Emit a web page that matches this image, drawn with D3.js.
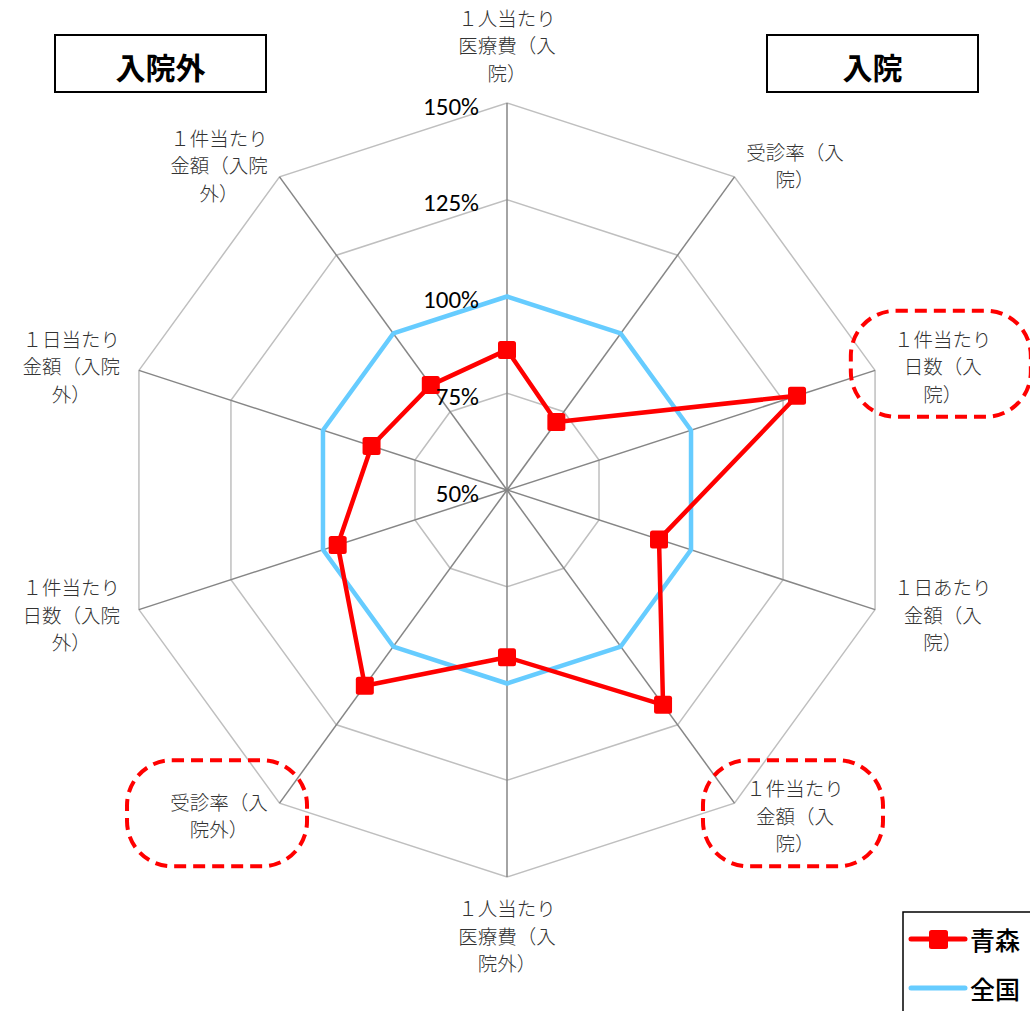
<!DOCTYPE html>
<html>
<head>
<meta charset="utf-8">
<script src="https://cdn.jsdelivr.net/npm/d3@7"></script>
<style>
  body { margin: 0; background: #fff; }
</style>
</head>
<body>
<svg id="chart"></svg>
<script>
// axis labels, one array of wrapped lines per spoke (clockwise from top)
const axisLabels = [
  ["１人当たり", "医療費（入", "院）"],
  ["受診率（入", "院）"],
  ["１件当たり", "日数（入", "院）"],
  ["１日あたり", "金額（入", "院）"],
  ["１件当たり", "金額（入", "院）"],
  ["１人当たり", "医療費（入", "院外）"],
  ["受診率（入", "院外）"],
  ["１件当たり", "日数（入院", "外）"],
  ["１日当たり", "金額（入院", "外）"],
  ["１件当たり", "金額（入院", "外）"]
]
const aomori = [86.2, 71.7, 128.8, 91.3, 118.6, 93.2, 112.5, 96.0, 86.8, 83.5]
const zenkoku = [100, 100, 100, 100, 100, 100, 100, 100, 100, 100]
const tickValues = [50, 75, 100, 125, 150]
const seriesNames = ["青森", "全国"]
const highlighted = [2, 4, 6]
const sideTitles = ["入院外", "入院"]

const width = 1030, height = 1011
const cx = 507, cy = 490
const outerR = 387

const svg = d3.select("#chart")
    .attr("width", width)
    .attr("height", height)
    .attr("viewBox", [0, 0, width, height])

const rScale = d3.scaleLinear()
    .domain([50, 150])
    .range([0, outerR])

const angle = d3.scaleLinear()
    .domain([0, axisLabels.length])
    .range([0, 2 * Math.PI])

const g = svg.append("g").attr("transform", `translate(${cx},${cy})`)

const ringLine = d3.lineRadial()
    .angle((d, i) => angle(i))
    .radius(d => rScale(d))
    .curve(d3.curveLinearClosed)

// grid rings
g.append("g")
  .selectAll("path")
  .data(tickValues.slice(1))
  .join("path")
    .attr("d", v => ringLine(axisLabels.map(() => v)))
    .attr("fill", "none")
    .attr("stroke", "#bfbfbf")
    .attr("stroke-width", 1.5)

// spokes
g.append("g")
  .selectAll("line")
  .data(axisLabels)
  .join("line")
    .attr("x1", 0).attr("y1", 0)
    .attr("x2", (d, i) => Math.sin(angle(i)) * rScale(150))
    .attr("y2", (d, i) => -Math.cos(angle(i)) * rScale(150))
    .attr("stroke", "#868686")
    .attr("stroke-width", 1.5)

// axis labels
const fs = 19.5, lh = 27.5
function labelCenter(i) {
    const a = angle(i)
    const s = Math.sin(a), c = Math.cos(a)
    const vx = s * rScale(150), vy = -c * rScale(150)
    const lines = axisLabels[i]
    const w = d3.max(lines, l => l.length) * fs
    const h = lines.length * lh
    if (Math.abs(s) < 0.01) {
        return [vx, vy - Math.sign(c) * (h / 2 + 17)]
    }
    return [vx + Math.sign(s) * (w / 2 + 20 * Math.abs(s)), vy - c * 15]
}

const labels = g.append("g")
    .attr("font-family", "'Noto Sans CJK JP', sans-serif")
    .attr("font-weight", 300)
    .attr("font-size", fs)
    .attr("fill", "#333")
    .attr("text-anchor", "middle")

axisLabels.forEach((lines, i) => {
    const [lx, ly] = labelCenter(i)
    labels.append("text")
      .selectAll("tspan")
      .data(lines)
      .join("tspan")
        .attr("x", lx)
        .attr("y", (d, j) => ly + (j - (lines.length - 1) / 2) * lh)
        .attr("dominant-baseline", "central")
        .text(d => d)
})

// dashed highlight around some labels
g.append("g")
  .selectAll("rect")
  .data(highlighted)
  .join("rect")
    .attr("x", i => labelCenter(i)[0] - 92)
    .attr("y", i => labelCenter(i)[1] - 55)
    .attr("width", 180)
    .attr("height", 106)
    .attr("rx", 45)
    .attr("fill", "none")
    .attr("stroke", "#ff0000")
    .attr("stroke-width", 4)
    .attr("stroke-dasharray", "12 7")

// series
g.append("path")
    .attr("d", ringLine(zenkoku))
    .attr("fill", "none")
    .attr("stroke", "#66ccff")
    .attr("stroke-width", 4.5)
    .attr("stroke-linejoin", "round")

g.append("path")
    .attr("d", ringLine(aomori))
    .attr("fill", "none")
    .attr("stroke", "#ff0000")
    .attr("stroke-width", 4.5)
    .attr("stroke-linejoin", "round")

g.append("g")
  .selectAll("rect")
  .data(aomori)
  .join("rect")
    .attr("x", (d, i) => Math.sin(angle(i)) * rScale(d) - 9)
    .attr("y", (d, i) => -Math.cos(angle(i)) * rScale(d) - 9)
    .attr("width", 18).attr("height", 18)
    .attr("rx", 2.5)
    .attr("fill", "#ff0000")

// tick labels
g.append("g")
    .attr("font-family", "Carlito, Lato, sans-serif")
    .attr("font-size", 25)
    .attr("fill", "#000")
    .attr("text-anchor", "end")
  .selectAll("text")
  .data(tickValues)
  .join("text")
    .attr("x", -28)
    .attr("y", v => -rScale(v) + 3)
    .attr("dominant-baseline", "central")
    .text(v => v + "%")

// side title boxes
const titles = svg.append("g")
titles.selectAll("rect")
  .data(sideTitles)
  .join("rect")
    .attr("x", (d, i) => i ? 767 : 55)
    .attr("y", 35)
    .attr("width", 211)
    .attr("height", 57)
    .attr("fill", "#fff")
    .attr("stroke", "#000")
    .attr("stroke-width", 2)
titles.selectAll("text")
  .data(sideTitles)
  .join("text")
    .attr("x", (d, i) => (i ? 767 : 55) + 105.5)
    .attr("y", 66)
    .attr("text-anchor", "middle")
    .attr("dominant-baseline", "central")
    .attr("font-family", "'Noto Sans CJK JP', sans-serif")
    .attr("font-weight", 700)
    .attr("font-size", 30)
    .text(d => d)

// legend
const legend = svg.append("g").attr("transform", "translate(903,912)")
legend.append("rect")
    .attr("width", 140).attr("height", 120)
    .attr("fill", "#fff")
    .attr("stroke", "#000")
    .attr("stroke-width", 1.5)
const items = legend.selectAll("g")
  .data(seriesNames)
  .join("g")
    .attr("transform", (d, i) => `translate(0,${27 + i * 49})`)
items.append("line")
    .attr("x1", 8).attr("x2", 62)
    .attr("stroke", (d, i) => i ? "#66ccff" : "#ff0000")
    .attr("stroke-width", 5)
    .attr("stroke-linecap", "round")
items.filter((d, i) => i === 0).append("rect")
    .attr("x", 26).attr("y", -9)
    .attr("width", 19).attr("height", 19)
    .attr("rx", 2.5)
    .attr("fill", "#ff0000")
items.append("text")
    .attr("x", 67)
    .attr("dominant-baseline", "central")
    .attr("font-family", "'Noto Sans CJK JP', sans-serif")
    .attr("font-weight", 500)
    .attr("font-size", 25)
    .text(d => d)
</script>
</body>
</html>
